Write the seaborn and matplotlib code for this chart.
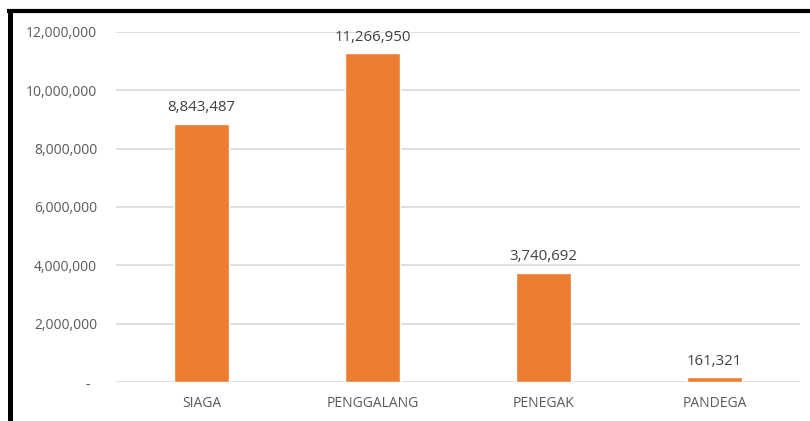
import matplotlib
matplotlib.use("Agg")
import matplotlib.pyplot as plt
import seaborn as sns
import pandas as pd
from matplotlib.lines import Line2D

categories = ["SIAGA", "PENGGALANG", "PENEGAK", "PANDEGA"]
values = [8843487, 11266950, 3740692, 161321]
yticks = [0, 2000000, 4000000, 6000000, 8000000, 10000000, 12000000]
ytick_labels = ["-  ", "2,000,000", "4,000,000", "6,000,000", "8,000,000", "10,000,000", "12,000,000"]

sns.set_theme(style="white")
plt.rcParams["font.family"] = ["Open Sans", "DejaVu Sans"]

df = pd.DataFrame({"cat": categories, "val": values})

fig = plt.figure(figsize=(8.10, 4.21), dpi=100)
ax = fig.add_axes([116/810, 1 - 382/421, (800-116)/810, 350/421])
sns.barplot(data=df, x="cat", y="val", color="#ED7D31", saturation=1, width=0.316, ax=ax)

ax.set_ylim(0, 12000000)
ax.set_xlim(-0.5, 3.5)
ax.set_yticks(yticks)
ax.set_yticklabels(ytick_labels)
ax.grid(axis="y", color="#d9d9d9", linewidth=1.2)
ax.set_axisbelow(True)
for s in ax.spines.values():
    s.set_visible(False)
ax.set_xlabel("")
ax.set_ylabel("")
ax.tick_params(axis="both", length=0, labelsize=10, colors="#595959", pad=10)
ax.tick_params(axis="y", pad=13.5)

for i, v in enumerate(values):
    ax.text(i, v + 300000, f"{v:,}", ha="center", va="bottom", fontsize=10.8, color="#404040")

fig.add_artist(Line2D([9.5/810, 9.5/810], [0, 1 - 9/421], color="black", linewidth=3.6,
                      solid_capstyle="butt", transform=fig.transFigure))
fig.add_artist(Line2D([7/810, 1], [1 - 11/421, 1 - 11/421], color="black", linewidth=3.0,
                      solid_capstyle="butt", transform=fig.transFigure))

fig.savefig("out.png", dpi=100, facecolor="white")
